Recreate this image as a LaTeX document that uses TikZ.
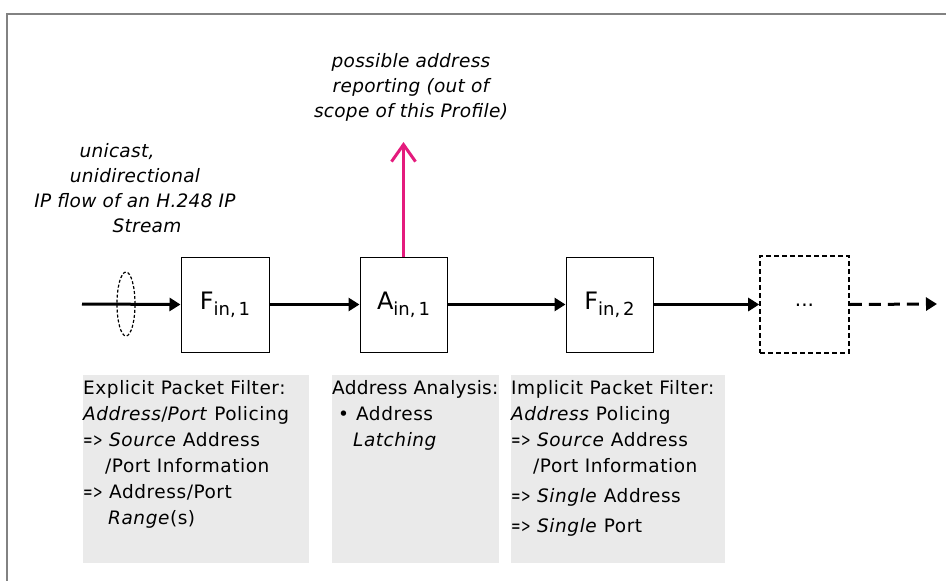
\documentclass[tikz,border=0pt]{standalone}
\usepackage{fontspec}
\usepackage{graphicx}
\setmainfont{DejaVu Sans}
\newfontfamily\notefont{DejaVu Sans}[LetterSpace=3]
\newfontfamily\notetightfont{DejaVu Sans}[LetterSpace=1.5]
\newfontfamily\commentfont{DejaVu Sans}[LetterSpace=1.5]
\newcommand{\darr}{\scalebox{0.62}[1]{=>}}
\usetikzlibrary{arrows.meta,shapes.geometric}
\definecolor{pinkarrow}{RGB}{228,27,125}
\definecolor{boxgray}{RGB}{234,234,234}
\definecolor{framegray}{RGB}{130,130,130}
\begin{document}
\begin{tikzpicture}[x=1pt,y=-1pt,
  blk/.style={draw=black, line width=1pt, minimum width=88pt, minimum height=95pt, inner sep=0pt, font=\fontsize{24}{24}\selectfont},
  dotblk/.style={blk, dash pattern=on 5pt off 3pt, line width=1.6pt, minimum width=89pt, minimum height=97pt},
  flow/.style={line width=3pt, -{Triangle[length=11pt,width=13pt]}},
  noteback/.style={fill=boxgray, inner sep=0pt, anchor=north west},
  notetext/.style={anchor=base west, inner sep=0pt, font=\notefont\fontsize{18.5}{26}\selectfont},
  comment/.style={anchor=base, inner sep=0pt, font=\commentfont\fontsize{18.5}{25}\selectfont\itshape},
]
\useasboundingbox (0,0) rectangle (946,581);
% frame
\draw[framegray, line width=1.2pt] (7,581) -- (7,14) -- (946,14);

% blocks
\node[blk] (f1) at (225,304.5) {F\raisebox{-6pt}{\fontsize{18}{18}\selectfont in,\,1}};
\node[blk, minimum width=87pt] (a1) at (403.5,304.5) {A\raisebox{-6pt}{\fontsize{18}{18}\selectfont in,\,1}};
\node[blk, minimum width=87pt] (f2) at (609.5,304.5) {F\raisebox{-6pt}{\fontsize{18}{18}\selectfont in,\,2}};
\node[dotblk] (more) at (804.5,304.5) {\raisebox{-4pt}{\fontsize{20}{20}\selectfont ...}};

% flow arrows
\coordinate (in) at (82,304);
\coordinate (out) at (937,304);
\draw[flow] (in) -- (f1.west);
\node[draw=black, line width=1.2pt, dash pattern=on 3pt off 2pt, ellipse, minimum width=18pt, minimum height=64pt, inner sep=0pt] (ell) at (126,304) {};
\draw[flow] (f1.east) -- (a1.west);
\draw[flow] (a1.east) -- (f2.west);
\draw[flow] (f2.east) -- (more.west);
\draw[flow, dash pattern=on 12pt off 7pt] (more.east) -- (out);

% reporting arrow
\coordinate (rep) at (403.5,142);
\draw[pinkarrow, line width=3pt, -{Straight Barb[length=17pt,width=24pt]}] (a1.north) -- (rep);

% comments
\node[comment] (ctop) at (411,67) {\begin{tabular}[t]{@{}c@{}}possible address\\reporting (out of\\scope of this Profile)\end{tabular}};
\node[comment] (cflow) at (135,157) {\begin{tabular}[t]{@{}c@{}}unicast,\hspace*{36pt}\\unidirectional\\IP flow of an H.248 IP\\\hspace*{24pt}Stream\end{tabular}};

% note boxes
\node[noteback, minimum width=226pt, minimum height=188pt] (g1) at (83,375) {};
\node[noteback, minimum width=167pt, minimum height=188pt] (g2) at (332,375) {};
\node[noteback, minimum width=214pt, minimum height=188pt] (g3) at (511,375) {};

\node[notetext] (t1) at (83,394) {\begin{tabular}[t]{@{}l@{}}
Explicit Packet Filter:\\
\textit{Address}/\textit{Port} Policing\\
\darr{} \textit{Source} Address\\
\hspace*{22pt}/Port Information\\
\darr{} Address/Port\\
\hspace*{25pt}\textit{Range}(s)
\end{tabular}};
\node[notetext] (t2) at (332,394) {\begin{tabular}[t]{@{}l@{}}
{\notetightfont Address Analysis:}\\
\hspace*{6pt}\textbullet\hspace*{7pt}Address\\
\hspace*{21pt}\textit{Latching}
\end{tabular}};
\node[notetext] (t3) at (511,394) {\begin{tabular}[t]{@{}l@{}}
Implicit Packet Filter:\\
\textit{Address} Policing\\
\darr{} \textit{Source} Address\\
\hspace*{22pt}/Port Information\\[4pt]
\darr{} \textit{Single} Address\\[4pt]
\darr{} \textit{Single} Port
\end{tabular}};
\end{tikzpicture}
\end{document}
